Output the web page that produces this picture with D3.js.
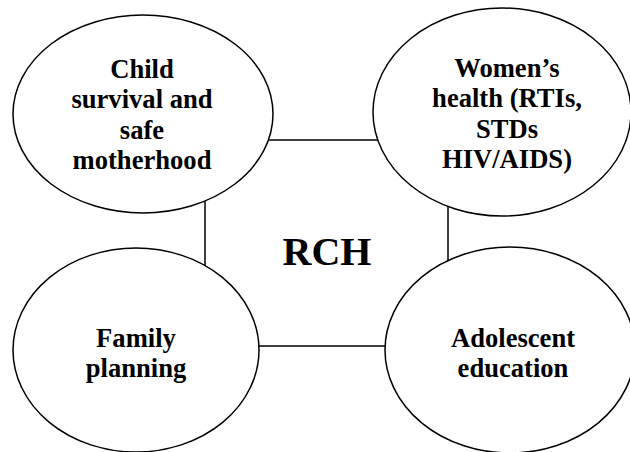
<!DOCTYPE html>
<html>
<head>
<meta charset="utf-8">
<script src="https://cdn.jsdelivr.net/npm/d3@7"></script>
<style>
  html, body { margin: 0; padding: 0; background: #fff; }
  svg { display: block; }
  text { font-family: "Liberation Serif", "Times New Roman", serif; font-weight: bold; fill: #000; }
</style>
</head>
<body>
<div id="chart"></div>
<script>
// Diagram content
const centerLabel = "RCH";
const topics = ["child", "women", "family", "adolescent"];
const topicLines = [
  ["Child", "survival and", "safe", "motherhood"],
  ["Women\u2019s", "health (RTIs,", "STDs", "HIV/AIDS)"],
  ["Family", "planning"],
  ["Adolescent", "education"]
];

const width = 630;
const height = 452;

const svg = d3.select("#chart")
  .append("svg")
  .attr("width", width)
  .attr("height", height);

// layout of the ellipses (centre, radii) and text centre
const layout = {
  child:      { cx: 143, cy: 114, rx: 130, ry: 99,  tx: 142, ty: 78 },
  women:      { cx: 502, cy: 112, rx: 129, ry: 104, tx: 507, ty: 77 },
  family:     { cx: 136, cy: 350, rx: 123, ry: 102, tx: 136, ty: 347 },
  adolescent: { cx: 510, cy: 350, rx: 125, ry: 103, tx: 513, ty: 347 }
};
const lineGap = 30.3;

// connecting square, drawn under the ellipses
svg.append("rect")
  .attr("x", 205)
  .attr("y", 140)
  .attr("width", 243)
  .attr("height", 206)
  .attr("fill", "none")
  .attr("stroke", "#000")
  .attr("stroke-width", 1.5);

svg.append("text")
  .attr("x", 327)
  .attr("y", 265)
  .attr("text-anchor", "middle")
  .style("font-size", "40px")
  .text(centerLabel);

const node = svg.selectAll("g.topic")
  .data(topics)
  .enter()
  .append("g")
  .attr("class", "topic");

node.append("ellipse")
  .attr("cx", d => layout[d].cx)
  .attr("cy", d => layout[d].cy)
  .attr("rx", d => layout[d].rx)
  .attr("ry", d => layout[d].ry)
  .attr("fill", "#fff")
  .attr("stroke", "#000")
  .attr("stroke-width", 1.5);

node.append("text")
  .attr("text-anchor", "middle")
  .style("font-size", "26.6px")
  .each(function (d, i) {
    const t = d3.select(this);
    topicLines[i].forEach((line, j) => {
      t.append("tspan")
        .attr("x", layout[d].tx)
        .attr("y", layout[d].ty + j * lineGap)
        .text(line);
    });
  });
</script>
</body>
</html>
